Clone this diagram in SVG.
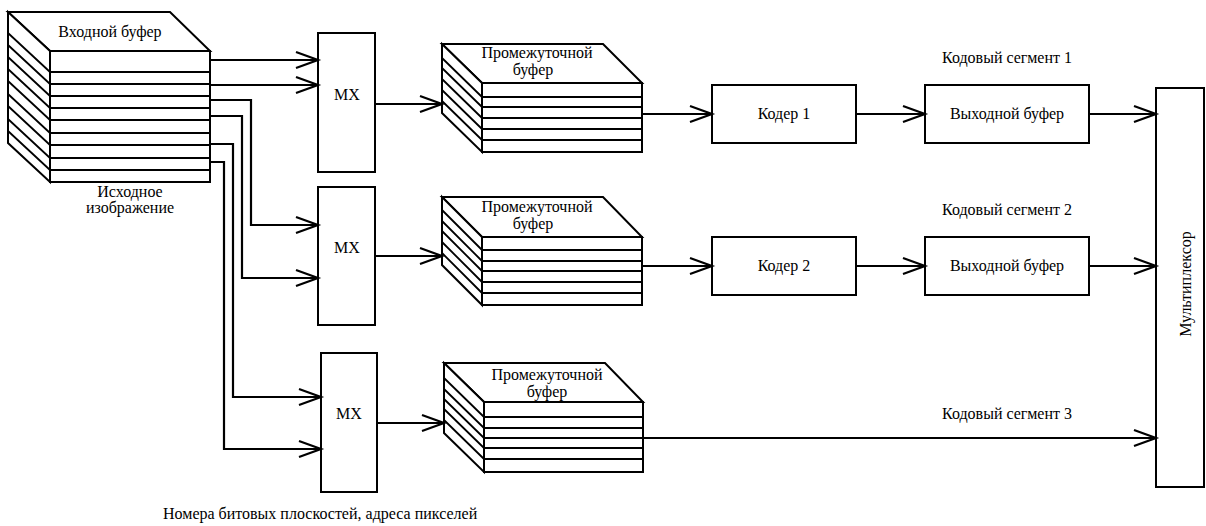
<svg xmlns="http://www.w3.org/2000/svg" width="1206" height="526" viewBox="0 0 1206 526" font-family="'Liberation Serif', 'Times New Roman', Times, serif" font-size="16">
<defs>
<marker id="arr" markerUnits="userSpaceOnUse" markerWidth="30" markerHeight="24" viewBox="-24 -12 30 24" refX="0" refY="0" orient="auto">
<path d="M -22 -8 L 0 0 L -22 8" fill="none" stroke="#000" stroke-width="2.2"/>
</marker>
</defs>
<style>
.box{fill:#fff;stroke:#000;stroke-width:2}
.thin{fill:none;stroke:#000;stroke-width:1.8}
.w{fill:none;stroke:#000;stroke-width:2.2;marker-end:url(#arr)}
text{fill:#000}
.c{text-anchor:middle}
</style>
<rect width="1206" height="526" fill="#fff"/>

<g id="input-buffer">
<path class="box" d="M8 12 L170 12 L210 51 L50 51 Z"/>
<path class="box" d="M8 12 L50 51 L50 182 L8 143 Z"/>
<rect class="box" x="50" y="51" width="160" height="131"/>
<path class="thin" d="M50 72H210M50 84H210M50 96H210M50 108H210M50 120H210M50 133H210M50 145H210M50 158H210M50 170H210"/>
<path class="thin" d="M8 33L50 72M8 45L50 84M8 57L50 96M8 69L50 108M8 81L50 120M8 94L50 133M8 106L50 145M8 119L50 158M8 131L50 170"/>
<text class="c" x="110" y="37">Входной буфер</text>
<text class="c" x="130" y="197">Исходное</text>
<text class="c" x="130" y="213">изображение</text>
</g>

<g id="mx1"><rect class="box" x="318" y="33" width="57" height="139"/><text class="c" x="347" y="100">MX</text></g>
<g id="mx2"><rect class="box" x="318" y="187" width="57" height="138"/><text class="c" x="347" y="253">MX</text></g>
<g id="mx3"><rect class="box" x="321" y="353" width="56" height="139"/><text class="c" x="349" y="419">MX</text></g>

<g id="int-buffer1">
<path class="box" d="M442 44 L603 44 L642 83 L482 83 Z"/>
<path class="box" d="M442 44 L482 83 L482 152 L442 113 Z"/>
<rect class="box" x="482" y="83" width="160" height="69"/>
<path class="thin" d="M482 97H642M482 107H642M482 118H642M482 129H642M482 140H642"/>
<path class="thin" d="M442 58L482 97M442 68L482 107M442 79L482 118M442 90L482 129M442 101L482 140"/>
<text class="c" x="537" y="58">Промежуточной</text>
<text class="c" x="533" y="75">буфер</text>
</g>

<g id="int-buffer2">
<path class="box" d="M442 197 L603 197 L642 237 L482 237 Z"/>
<path class="box" d="M442 197 L482 237 L482 305 L442 265 Z"/>
<rect class="box" x="482" y="237" width="160" height="68"/>
<path class="thin" d="M482 250H642M482 261H642M482 271H642M482 282H642M482 293H642"/>
<path class="thin" d="M442 210L482 250M442 221L482 261M442 231L482 271M442 242L482 282M442 253L482 293"/>
<text class="c" x="537" y="212">Промежуточной</text>
<text class="c" x="533" y="229">буфер</text>
</g>

<g id="int-buffer3">
<path class="box" d="M444 363 L605 363 L643 402 L484 402 Z"/>
<path class="box" d="M444 363 L484 402 L484 472 L444 433 Z"/>
<rect class="box" x="484" y="402" width="159" height="70"/>
<path class="thin" d="M484 417H643M484 428H643M484 438H643M484 448H643M484 459H643"/>
<path class="thin" d="M444 378L484 417M444 389L484 428M444 399L484 438M444 409L484 448M444 420L484 459"/>
<text class="c" x="547" y="380">Промежуточной</text>
<text class="c" x="547" y="397">буфер</text>
</g>

<g id="coder1"><rect class="box" x="712" y="85" width="144" height="58"/><text class="c" x="784" y="119">Кодер 1</text></g>
<g id="outbuf1"><rect class="box" x="925" y="85" width="164" height="58"/><text class="c" x="1007" y="119">Выходной буфер</text></g>
<g id="coder2"><rect class="box" x="712" y="237" width="144" height="58"/><text class="c" x="784" y="271">Кодер 2</text></g>
<g id="outbuf2"><rect class="box" x="925" y="237" width="164" height="58"/><text class="c" x="1007" y="271">Выходной буфер</text></g>

<g id="multiplexer"><rect class="box" x="1156" y="88" width="48" height="399"/><text class="c" transform="translate(1191 284) rotate(-90)">Мультиплексор</text></g>

<g id="connectors">
<path class="w" d="M210 60H318"/>
<path class="w" d="M210 85H318"/>
<path class="w" d="M210 100H251V225H318"/>
<path class="w" d="M210 116H242V278H318"/>
<path class="w" d="M210 144H233V397H321"/>
<path class="w" d="M210 162H224V449H321"/>
<path class="w" d="M375 104H442"/>
<path class="w" d="M375 256H442"/>
<path class="w" d="M377 423H444"/>
<path class="w" d="M642 114H712"/>
<path class="w" d="M856 114H925"/>
<path class="w" d="M1089 114H1156"/>
<path class="w" d="M642 266H712"/>
<path class="w" d="M856 266H925"/>
<path class="w" d="M1089 266H1156"/>
<path class="w" d="M643 438H1156"/>
</g>

<g id="labels">
<text class="c" x="1007" y="63">Кодовый сегмент 1</text>
<text class="c" x="1007" y="215">Кодовый сегмент 2</text>
<text class="c" x="1007" y="419">Кодовый сегмент 3</text>
<text x="163" y="519">Номера битовых плоскостей, адреса пикселей</text>
</g>
</svg>
